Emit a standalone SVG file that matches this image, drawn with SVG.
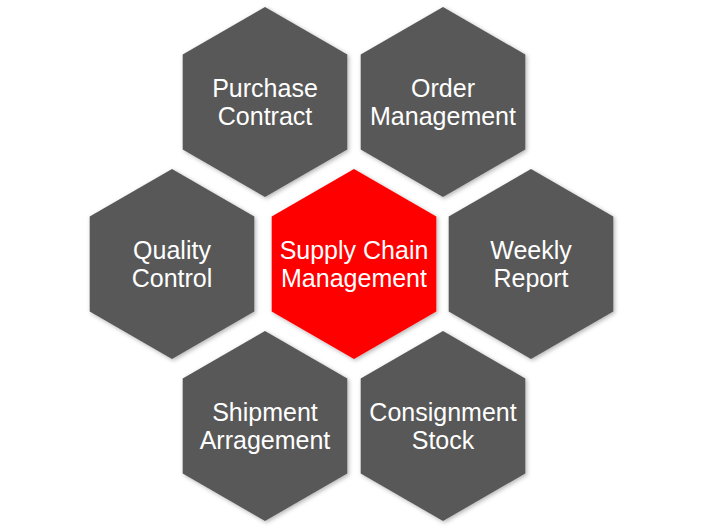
<svg xmlns="http://www.w3.org/2000/svg" width="721" height="532" viewBox="0 0 721 532">
<defs>
<style>
.hex{fill:#585858;filter:url(#sh)}
.red{fill:#FF0000}
.t{font-family:"Liberation Sans",Arial,sans-serif;font-size:25px;fill:#fff;text-anchor:middle}
</style>
<filter id="sh" x="-10%" y="-10%" width="130%" height="130%">
<feDropShadow dx="1.5" dy="1.5" stdDeviation="2" flood-color="#000" flood-opacity="0.3"/>
</filter>
<polygon id="hx" points="0,-95 82.3,-47.5 82.3,47.5 0,95 -82.3,47.5 -82.3,-47.5"/>
</defs>
<rect width="721" height="532" fill="#fff"/>
<g id="purchase" transform="translate(265,102)"><use href="#hx" class="hex"/><text class="t" y="-5"><tspan x="0">Purchase</tspan><tspan x="0" dy="28">Contract</tspan></text></g>
<g id="order" transform="translate(443,102)"><use href="#hx" class="hex"/><text class="t" y="-5"><tspan x="0">Order</tspan><tspan x="0" dy="28">Management</tspan></text></g>
<g id="quality" transform="translate(172,264)"><use href="#hx" class="hex"/><text class="t" y="-5"><tspan x="0">Quality</tspan><tspan x="0" dy="28">Control</tspan></text></g>
<g id="scm" transform="translate(354,264)"><use href="#hx" class="hex red"/><text class="t" y="-5"><tspan x="0">Supply Chain</tspan><tspan x="0" dy="28">Management</tspan></text></g>
<g id="weekly" transform="translate(531,264)"><use href="#hx" class="hex"/><text class="t" y="-5"><tspan x="0">Weekly</tspan><tspan x="0" dy="28">Report</tspan></text></g>
<g id="shipment" transform="translate(265,426)"><use href="#hx" class="hex"/><text class="t" y="-5"><tspan x="0">Shipment</tspan><tspan x="0" dy="28">Arragement</tspan></text></g>
<g id="consignment" transform="translate(443,426)"><use href="#hx" class="hex"/><text class="t" y="-5"><tspan x="0">Consignment</tspan><tspan x="0" dy="28">Stock</tspan></text></g>
<g id="connectors"/>
</svg>
